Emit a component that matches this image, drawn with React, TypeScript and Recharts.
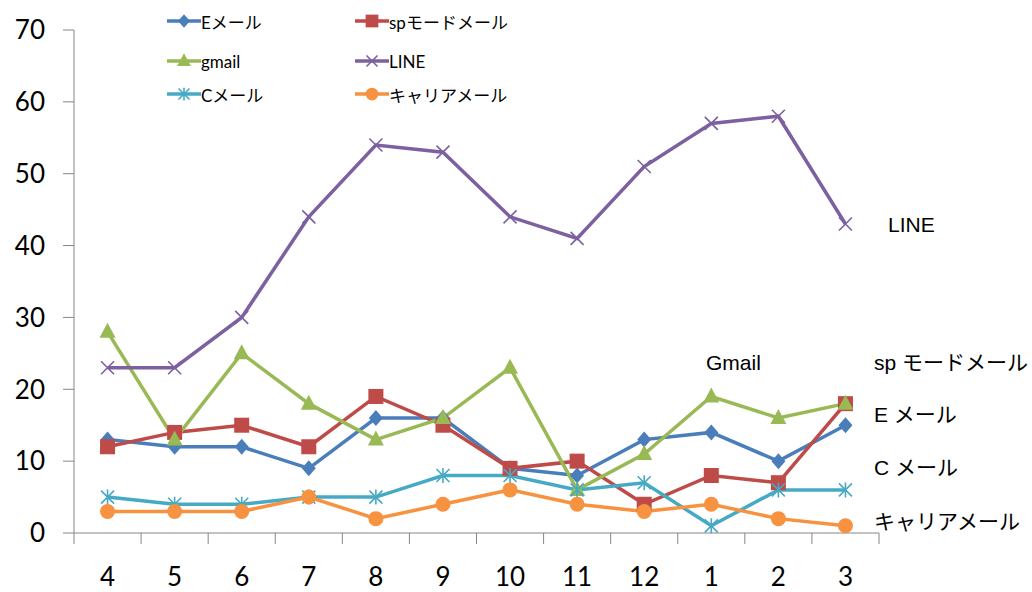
import { LineChart, Line, XAxis, YAxis } from 'recharts'

const months = ['4', '5', '6', '7', '8', '9', '10', '11', '12', '1', '2', '3']
const eMail = [13, 12, 12, 9, 16, 16, 9, 8, 13, 14, 10, 15]
const spMode = [12, 14, 15, 12, 19, 15, 9, 10, 4, 8, 7, 18]
const gmail = [28, 13, 25, 18, 13, 16, 23, 6, 11, 19, 16, 18]
const line = [23, 23, 30, 44, 54, 53, 44, 41, 51, 57, 58, 43]
const cMail = [5, 4, 4, 5, 5, 8, 8, 6, 7, 1, 6, 6]
const carrier = [3, 3, 3, 5, 2, 4, 6, 4, 3, 4, 2, 1]
const yTicks = [0, 10, 20, 30, 40, 50, 60, 70]

const data = months.map((m, i) => ({
  month: m,
  e: eMail[i],
  sp: spMode[i],
  gmail: gmail[i],
  line: line[i],
  c: cMail[i],
  carrier: carrier[i],
}))

const W = 1032
const H = 592
const LEFT = 74
const RIGHT = 153
const BAND = (W - LEFT - RIGHT) / months.length
const AXIS = '#868686'
const JP = "'Noto Sans CJK JP'"

type Shape = 'diamond' | 'square' | 'triangle' | 'x' | 'star' | 'circle'

// 記号を描く
function marker(shape: Shape, cx: number, cy: number, color: string, s = 1, key?: string) {
  switch (shape) {
    case 'diamond':
      return <path key={key} d={`M${cx},${cy - 8 * s}L${cx + 7 * s},${cy}L${cx},${cy + 8 * s}L${cx - 7 * s},${cy}Z`} fill={color} />
    case 'square':
      return <rect key={key} x={cx - 7.5 * s} y={cy - 7.5 * s} width={15 * s} height={15 * s} fill={color} />
    case 'triangle':
      return <path key={key} d={`M${cx},${cy - 9 * s}L${cx + 8 * s},${cy + 6 * s}L${cx - 8 * s},${cy + 6 * s}Z`} fill={color} />
    case 'x':
      return (
        <path key={key} d={`M${cx - 6.5 * s},${cy - 6.5 * s}L${cx + 6.5 * s},${cy + 6.5 * s}M${cx + 6.5 * s},${cy - 6.5 * s}L${cx - 6.5 * s},${cy + 6.5 * s}`}
          stroke={color} strokeWidth={1.6} fill="none" />
      )
    case 'star':
      return (
        <path key={key} d={`M${cx - 6.5 * s},${cy - 6.5 * s}L${cx + 6.5 * s},${cy + 6.5 * s}M${cx + 6.5 * s},${cy - 6.5 * s}L${cx - 6.5 * s},${cy + 6.5 * s}M${cx},${cy - 7.5 * s}L${cx},${cy + 7.5 * s}`}
          stroke={color} strokeWidth={1.6} fill="none" />
      )
    default:
      return <circle key={key} cx={cx} cy={cy} r={7.5 * s} fill={color} />
  }
}

const series: { key: string; name: string; color: string; shape: Shape }[] = [
  { key: 'e', name: 'Eメール', color: '#4A7EBB', shape: 'diamond' },
  { key: 'sp', name: 'spモードメール', color: '#BE4B48', shape: 'square' },
  { key: 'gmail', name: 'gmail', color: '#98B954', shape: 'triangle' },
  { key: 'line', name: 'LINE', color: '#7D60A0', shape: 'x' },
  { key: 'c', name: 'Cメール', color: '#46AAC5', shape: 'star' },
  { key: 'carrier', name: 'キャリアメール', color: '#F69240', shape: 'circle' },
]

const notes = [
  { text: 'LINE', x: 888, y: 225 },
  { text: 'Gmail', x: 706, y: 363 },
  { text: 'sp モードメール', x: 874, y: 363 },
  { text: 'E メール', x: 874, y: 415 },
  { text: 'C メール', x: 874, y: 468 },
  { text: 'キャリアメール', x: 874, y: 522 },
]

const legendPos = [
  { x: 167, y: 21 },
  { x: 355, y: 21 },
  { x: 167, y: 61 },
  { x: 355, y: 61 },
  { x: 167, y: 94 },
  { x: 355, y: 94 },
]

function MonthTick(props: any) {
  const { x, y, payload, index } = props
  return (
    <g>
      <line x1={x - BAND / 2} x2={x - BAND / 2} y1={y} y2={y + 11} stroke={AXIS} />
      {index === months.length - 1 && <line x1={x + BAND / 2} x2={x + BAND / 2} y1={y} y2={y + 11} stroke={AXIS} />}
      <text x={x} y={y + 46} textAnchor="middle" dominantBaseline="middle" fontSize={26} fill="#000" fontFamily="Lato">
        {payload.value}
      </text>
    </g>
  )
}

export default function App() {
  return (
    <div style={{ position: 'absolute', left: 0, top: 0, width: W, height: H, background: '#fff' }}>
      <LineChart width={W} height={H} data={data} margin={{ top: 30, right: RIGHT, bottom: 0, left: 0 }}>
        <XAxis dataKey="month" interval={0} height={59} axisLine={{ stroke: AXIS }} tickLine={false}
          padding={{ left: BAND / 2, right: BAND / 2 }} tickSize={0} tickMargin={0} tick={<MonthTick />} />
        <YAxis domain={[0, 70]} ticks={yTicks} width={LEFT} axisLine={{ stroke: AXIS }} tickLine={{ stroke: AXIS }}
          tickSize={11} tickMargin={18} tick={{ fontSize: 26, fill: '#000', fontFamily: 'Lato' }} />
        {series.map((s) => (
          <Line key={s.key} dataKey={s.key} name={s.name} stroke={s.color} strokeWidth={3.5} isAnimationActive={false}
            dot={(p: any) => marker(s.shape, p.cx, p.cy, s.color, 1, `${s.key}-${p.index}`)} activeDot={false} />
        ))}
      </LineChart>

      {series.map((s, i) => (
        <div key={s.key} style={{ position: 'absolute', left: legendPos[i].x, top: legendPos[i].y - 14, height: 28,
          display: 'flex', alignItems: 'center', fontFamily: `Lato, ${JP}`, fontSize: 17, color: '#000' }}>
          <svg width={34} height={28}>
            <line x1={0} x2={34} y1={14} y2={14} stroke={s.color} strokeWidth={3.5} />
            {marker(s.shape, 17, 14, s.color, 0.85)}
          </svg>
          <span>{s.name}</span>
        </div>
      ))}

      {notes.map((n) => (
        <div key={n.text} style={{ position: 'absolute', left: n.x, top: n.y - 14, height: 28, lineHeight: '28px',
          fontFamily: `'Liberation Sans', ${JP}`, fontSize: 21, color: '#000', whiteSpace: 'nowrap' }}>
          {n.text}
        </div>
      ))}
    </div>
  )
}
